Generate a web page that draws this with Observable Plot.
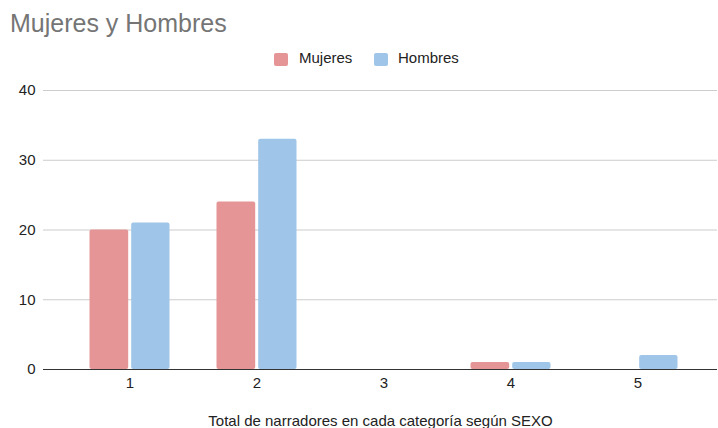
<!DOCTYPE html>
<html>
<head>
<meta charset="utf-8">
<script src="https://cdn.jsdelivr.net/npm/d3@7"></script>
<script src="https://cdn.jsdelivr.net/npm/@observablehq/plot@0.6"></script>
<style>
  body { margin: 0; background: #fff; font-family: "Liberation Sans", Arial, sans-serif; }
  #wrap { width: 718px; height: 428px; position: relative; overflow: hidden; }
  #title { height: 42px; font-size: 25px; color: #757575; padding-left: 10px; line-height: 46px; box-sizing: border-box; white-space: nowrap; }
  #legend { height: 30px; position: relative; font-size: 15px; color: #222; }
  .sw { position: absolute; top: 11px; width: 14px; height: 13px; border-radius: 2px; }
  .lb { position: absolute; top: 7px; line-height: 18px; }
</style>
</head>
<body>
<div id="wrap">
  <div id="title">Mujeres y Hombres</div>
  <div id="legend"></div>
  <div id="chart"></div>
</div>
<script>
const categories = ["1", "2", "3", "4", "5"];
const mujeres = [20, 24, 0, 1, 0];
const hombres = [21, 33, 0, 1, 2];
const seriesNames = ["Mujeres", "Hombres"];
const seriesColors = ["#e69596", "#9fc5e8"];
const yTicks = [0, 10, 20, 30, 40];
const xTitle = "Total de narradores en cada categoría según SEXO";

const legend = document.getElementById("legend");
const legendPos = [[274, 299], [374, 398]];
seriesNames.forEach((n, i) => {
  const s = document.createElement("div");
  s.className = "sw"; s.style.left = legendPos[i][0] + "px"; s.style.background = seriesColors[i];
  legend.appendChild(s);
  const l = document.createElement("div");
  l.className = "lb"; l.style.left = legendPos[i][1] + "px"; l.textContent = n;
  legend.appendChild(l);
});

const dataM = categories.map((c, i) => ({cat: c, value: mujeres[i]}));
const dataH = categories.map((c, i) => ({cat: c, value: hombres[i]}));

const chart = Plot.plot({
  width: 718,
  height: 356,
  marginLeft: 43,
  marginRight: 1,
  marginTop: 18,
  marginBottom: 59,
  style: {fontFamily: "Liberation Sans, Arial, sans-serif", fontSize: "15px", color: "#222", background: "#fff"},
  x: {domain: categories, range: [65.5, 700.5], padding: 0, label: null, axis: null},
  y: {domain: [0, 40], ticks: yTicks, label: null, axis: null},
  marks: [
    Plot.ruleY(yTicks.filter(d => d > 0), {stroke: "#cccccc", strokeWidth: 1}),
    Plot.barY(dataM, {x: "cat", y: "value", fill: seriesColors[0], insetLeft: 23.5, insetRight: 64.8, rx: 2}),
    Plot.barY(dataH, {x: "cat", y: "value", fill: seriesColors[1], insetLeft: 65.2, insetRight: 23.5, rx: 2}),
    Plot.ruleY([0], {stroke: "#333", strokeWidth: 1}),
    Plot.axisY(yTicks, {tickSize: 0, tickPadding: 8, fontSize: 15, fill: "#222", label: null}),
    Plot.axisX(categories, {tickSize: 0, tickPadding: 8, fontSize: 15, fill: "#222", label: null}),
    Plot.text([xTitle], {frameAnchor: "bottom", dy: 56, fontSize: 15, fill: "#222"})
  ]
});
document.getElementById("chart").appendChild(chart);
</script>
</body>
</html>
